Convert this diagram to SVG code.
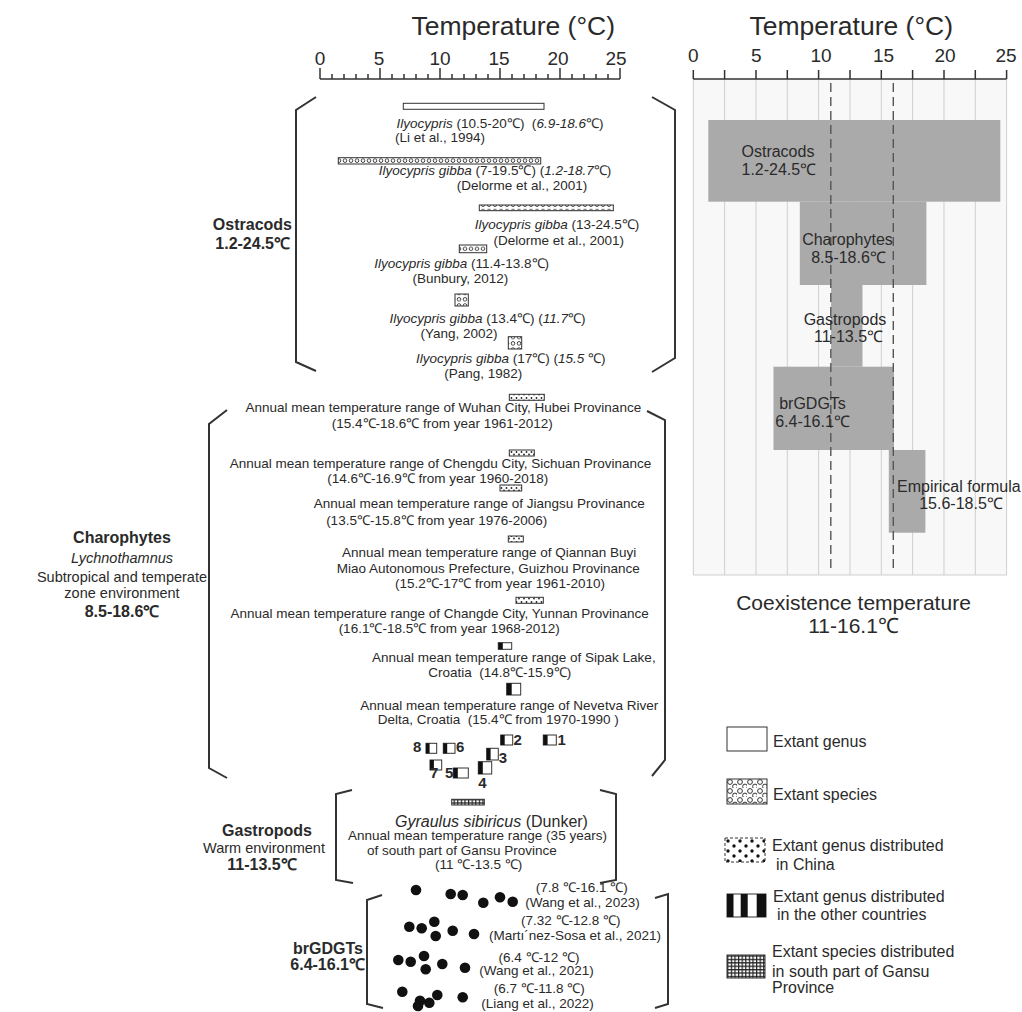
<svg xmlns="http://www.w3.org/2000/svg" width="1022" height="1012" viewBox="0 0 1022 1012">
<style>
text{font-family:"Liberation Sans",Arial,sans-serif;fill:#2a2a2a}
.s{font-size:13.5px}
.m{text-anchor:middle}
.e{text-anchor:end}
.i{font-style:italic}
.lab{font-size:16px;font-weight:bold}
.reg{font-size:14.5px}
.ax{font-size:19px;text-anchor:middle}
.ttl{font-size:26.5px;text-anchor:end}
.bt{font-size:16px}
.leg{font-size:16px}
.num{font-size:15px;font-weight:bold}
.br{fill:none;stroke:#333;stroke-width:2}
.bx{stroke:#333;stroke-width:1}
.tk{stroke:#333;stroke-width:1.5;fill:none}
.grid{stroke:#cfcfcf;stroke-width:1}
.bar{fill:#aaaaaa}
.dash{stroke:#555;stroke-width:1.4;stroke-dasharray:9 5}
.pre{white-space:pre}
</style>
<defs>
<pattern id="pSp" width="6" height="6.3" patternUnits="userSpaceOnUse"><rect width="6" height="6.3" fill="#fff"/><circle cx="3" cy="3.15" r="1.8" fill="none" stroke="#333" stroke-width="0.9"/></pattern>
<pattern id="pSpL" width="10" height="9" patternUnits="userSpaceOnUse" x="727" y="779"><rect width="10" height="9" fill="#fff"/><circle cx="3" cy="3" r="2.4" fill="none" stroke="#333" stroke-width="1"/><circle cx="8" cy="7.5" r="2.4" fill="none" stroke="#333" stroke-width="1"/></pattern>
<pattern id="pDot" width="5" height="6" patternUnits="userSpaceOnUse"><rect width="5" height="6" fill="#fff"/><circle cx="1.5" cy="2" r="0.9" fill="#222"/><circle cx="4" cy="4.5" r="0.9" fill="#222"/></pattern>
<pattern id="pDotL" width="12" height="10" patternUnits="userSpaceOnUse" x="725" y="838"><rect width="12" height="10" fill="#fff"/><circle cx="3" cy="3" r="1.7" fill="#111"/><circle cx="9" cy="8" r="1.7" fill="#111"/></pattern>
<pattern id="pGrid" width="3.6" height="3.4" patternUnits="userSpaceOnUse"><rect width="3.6" height="3.4" fill="#fff"/><path d="M0 0.6H3.6M0.6 0V3.4" stroke="#222" stroke-width="1.2"/></pattern>
</defs>
<rect width="1022" height="1012" fill="#fff"/>

<g id="left-axis">
<text class="ttl" x="615" y="35">Temperature (°C)</text>
<path class="tk" d="M320 79H620M320 68V79M332 74V79M344 74V79M356 74V79M368 74V79M380 68V79M392 74V79M404 74V79M416 74V79M428 74V79M440 68V79M452 74V79M464 74V79M476 74V79M488 74V79M500 68V79M512 74V79M524 74V79M536 74V79M548 74V79M560 68V79M572 74V79M584 74V79M596 74V79M608 74V79M620 68V79"/>
<text class="ax" x="320" y="65">0</text><text class="ax" x="379" y="65">5</text><text class="ax" x="440" y="65">10</text><text class="ax" x="499" y="65">15</text><text class="ax" x="558" y="65">20</text><text class="ax" x="616" y="65">25</text>
</g>

<g id="brackets">
<path class="br" d="M316 97L296 110V362L316 371"/>
<path class="br" d="M652 97L675 110V358L652 372"/>
<path class="br" d="M227 410L209 424V768L227 778"/>
<path class="br" d="M647 411L665 420V760L652 776"/>
<path class="br" d="M352 790L336 794V880L353 883"/>
<path class="br" d="M600 790L616 794V880L600 883"/>
<path class="br" d="M382 895L367 900V1004L383 1008"/>
<path class="br" d="M655 898L668 894V1004L655 1008"/>
</g>

<g id="ostracods">
<text class="lab e" x="292" y="230">Ostracods</text>
<text class="lab e" x="290" y="249">1.2-24.5℃</text>
<rect class="bx" x="403.3" y="103.3" width="140.7" height="6" fill="#fff"/>
<text class="s m pre" x="500" y="128"><tspan class="i">Ilyocypris</tspan> (10.5-20℃)  (<tspan class="i">6.9-18.6</tspan>℃)</text>
<text class="s m" x="440" y="142">(Li et al., 1994)</text>
<rect class="bx" x="338.3" y="157.7" width="202.4" height="6.3" fill="url(#pSp)"/>
<text class="s m" x="495" y="175"><tspan class="i">Ilyocypris gibba</tspan> (7-19.5℃) (<tspan class="i">1.2-18.7</tspan>℃)</text>
<text class="s m" x="522" y="190">(Delorme et al., 2001)</text>
<rect class="bx" x="479.3" y="205" width="134" height="5.7" fill="url(#pSp)"/>
<text class="s m" x="557" y="228.5"><tspan class="i">Ilyocypris gibba</tspan> (13-24.5℃)</text>
<text class="s m" x="558.7" y="245">(Delorme et al., 2001)</text>
<rect class="bx" x="459.3" y="245" width="27.4" height="7.7" fill="url(#pSp)"/>
<text class="s m" x="461.7" y="268"><tspan class="i">Ilyocypris gibba</tspan> (11.4-13.8℃)</text>
<text class="s m" x="460.3" y="283.3">(Bunbury, 2012)</text>
<rect class="bx" x="455" y="294" width="13.3" height="12" fill="url(#pSp)"/>
<text class="s m" x="487.5" y="323.3"><tspan class="i">Ilyocypris gibba</tspan> (13.4℃) (<tspan class="i">11.7</tspan>℃)</text>
<text class="s m" x="459" y="338.3">(Yang, 2002)</text>
<rect class="bx" x="508.3" y="336.7" width="13.4" height="12.3" fill="url(#pSp)"/>
<text class="s m" x="510.7" y="362.7"><tspan class="i">Ilyocypris gibba</tspan> (17℃) (<tspan class="i">15.5</tspan> ℃)</text>
<text class="s m" x="483.3" y="378.3">(Pang, 1982)</text>
</g>

<g id="charophytes">
<text class="lab m" x="122" y="543">Charophytes</text>
<text class="reg m i" x="122" y="563">Lychnothamnus</text>
<text class="reg m" x="122" y="581.5">Subtropical and temperate</text>
<text class="reg m" x="122" y="598">zone environment</text>
<text class="lab m" x="122" y="616.5">8.5-18.6℃</text>
<rect class="bx" x="509.3" y="394.3" width="35" height="6" fill="url(#pDot)"/>
<text class="s m" x="443.3" y="412.3">Annual mean temperature range of Wuhan City, Hubei Provinance</text>
<text class="s m" x="442.3" y="428.3">(15.4℃-18.6℃ from year 1961-2012)</text>
<rect class="bx" x="509.3" y="450" width="25" height="6" fill="url(#pDot)"/>
<text class="s m" x="440.5" y="468.3">Annual mean temperature range of Chengdu City, Sichuan Provinance</text>
<text class="s m" x="437.8" y="483.3">(14.6℃-16.9℃ from year 1960-2018)</text>
<rect class="bx" x="500" y="485" width="21.7" height="6" fill="url(#pDot)"/>
<text class="s m" x="479.2" y="508">Annual mean temperature range of Jiangsu Provinance</text>
<text class="s m" x="436.7" y="525">(13.5℃-15.8℃ from year 1976-2006)</text>
<rect class="bx" x="508.3" y="536" width="15" height="6" fill="url(#pDot)"/>
<text class="s m" x="489.2" y="556.7">Annual mean temperature range of Qiannan Buyi</text>
<text class="s m" x="488.3" y="573.3">Miao Autonomous Prefecture, Guizhou Provinance</text>
<text class="s m" x="500" y="588.3">(15.2℃-17℃ from year 1961-2010)</text>
<rect class="bx" x="516" y="597.3" width="27.3" height="6" fill="url(#pDot)"/>
<text class="s m" x="439.7" y="618.3">Annual mean temperature range of Changde City, Yunnan Provinance</text>
<text class="s m" x="449.2" y="633.3">(16.1℃-18.5℃ from year 1968-2012)</text>
<rect class="bx" x="498.3" y="642.7" width="13.4" height="6.6" fill="#fff"/><rect x="498.3" y="642.7" width="4.5" height="6.6" fill="#111"/>
<text class="s m" x="513.8" y="661.7">Annual mean temperature range of Sipak Lake,</text>
<text class="s m pre" x="499.7" y="676.7">Croatia  (14.8℃-15.9℃)</text>
<rect class="bx" x="506.7" y="683.3" width="14" height="11.7" fill="#fff"/><rect x="506.7" y="683.3" width="5" height="11.7" fill="#111"/>
<text class="s m" x="509.2" y="710">Annual mean temperature range of Nevetva River</text>
<text class="s m pre" x="498.3" y="724">Delta, Croatia  (15.4℃ from 1970-1990 )</text>
<g id="numbered">
<rect class="bx" x="500.7" y="735" width="12" height="10" fill="#fff"/><rect x="500.7" y="735" width="4" height="10" fill="#111"/><text class="num" x="513.5" y="745">2</text>
<rect class="bx" x="543.3" y="735" width="13" height="10" fill="#fff"/><rect x="543.3" y="735" width="4.3" height="10" fill="#111"/><text class="num" x="557.5" y="745">1</text>
<text class="num" x="413" y="752">8</text><rect class="bx" x="426" y="743.3" width="10.7" height="10" fill="#fff"/><rect x="426" y="743.3" width="3.6" height="10" fill="#111"/>
<rect class="bx" x="443.3" y="743.3" width="11.7" height="10" fill="#fff"/><rect x="443.3" y="743.3" width="3.9" height="10" fill="#111"/><text class="num" x="456" y="752">6</text>
<rect class="bx" x="486.7" y="748.3" width="11.6" height="11.7" fill="#fff"/><rect x="486.7" y="748.3" width="3.9" height="11.7" fill="#111"/><text class="num" x="498.8" y="763">3</text>
<rect class="bx" x="430" y="760" width="11.7" height="10" fill="#fff"/><rect x="430" y="760" width="3.9" height="10" fill="#111"/>
<rect class="bx" x="478.3" y="761.7" width="13.4" height="12.3" fill="#fff"/><rect x="478.3" y="761.7" width="4.5" height="12.3" fill="#111"/>
<text class="num" x="430" y="778">7</text>
<text class="num" x="445" y="778">5</text><rect class="bx" x="453.3" y="768" width="15" height="10" fill="#fff"/><rect x="453.3" y="768" width="4.5" height="10" fill="#111"/>
<text class="num" x="478.3" y="788">4</text>
</g>
</g>

<g id="gastropods">
<text class="lab m" x="267" y="836">Gastropods</text>
<text class="reg m" x="264" y="853">Warm environment</text>
<text class="lab m" x="262" y="870">11-13.5℃</text>
<rect class="bx" x="451.7" y="799.3" width="32.6" height="5.7" fill="url(#pGrid)"/>
<text x="395" y="826.7" style="font-size:16px"><tspan class="i">Gyraulus sibiricus</tspan> (Dunker)</text>
<text class="s" x="348" y="840">Annual mean temperature range (35 years)</text>
<text class="s" x="367" y="855">of south part of Gansu Province</text>
<text class="s" x="435" y="869.3">(11 ℃-13.5 ℃)</text>
</g>

<g id="brgdgts">
<text class="lab e" x="363" y="954">brGDGTs</text>
<text class="lab e" x="365" y="970">6.4-16.1℃</text>
<g fill="#111">
<circle cx="416" cy="890" r="5.3"/><circle cx="450.7" cy="894" r="5.3"/><circle cx="462.7" cy="895" r="5.3"/><circle cx="483.3" cy="902.7" r="5.3"/><circle cx="500" cy="897.3" r="5.3"/><circle cx="512.7" cy="901.7" r="5.3"/>
<circle cx="409.3" cy="926.7" r="5.3"/><circle cx="421.7" cy="928.3" r="5.3"/><circle cx="434.3" cy="921.7" r="5.3"/><circle cx="435.7" cy="936" r="5.3"/><circle cx="452.7" cy="930.7" r="5.3"/><circle cx="474" cy="934" r="5.3"/>
<circle cx="398.3" cy="960" r="5.3"/><circle cx="410.7" cy="961.7" r="5.3"/><circle cx="424" cy="956" r="5.3"/><circle cx="425.7" cy="969.3" r="5.3"/><circle cx="442.3" cy="964" r="5.3"/><circle cx="465" cy="967.7" r="5.3"/>
<circle cx="402.3" cy="991.7" r="5.3"/><circle cx="420" cy="1000.7" r="5.3"/><circle cx="429.3" cy="1002.7" r="5.3"/><circle cx="437.3" cy="995" r="5.3"/><circle cx="462.7" cy="997.3" r="5.3"/><circle cx="418" cy="1006" r="5.3"/>
</g>
<text class="s m" x="581.7" y="891.7">(7.8 ℃-16.1 ℃)</text>
<text class="s m" x="582.5" y="906.7">(Wang et al., 2023)</text>
<text class="s m" x="570.8" y="925">(7.32 ℃-12.8 ℃)</text>
<text class="s m" x="575" y="940">(Martı´nez-Sosa et al., 2021)</text>
<text class="s m" x="539" y="961.7">(6.4 ℃-12 ℃)</text>
<text class="s m" x="536.5" y="975">(Wang et al., 2021)</text>
<text class="s m" x="539.2" y="993.3">(6.7 ℃-11.8 ℃)</text>
<text class="s m" x="537.5" y="1008">(Liang et al., 2022)</text>
</g>

<g id="right-chart">
<rect x="693.3" y="79" width="313.3" height="496" fill="#f8f8f8"/>
<path class="grid" d="M693.3 79V575M724.6 79V575M756 79V575M787.3 79V575M818.6 79V575M850 79V575M881.3 79V575M912.6 79V575M944 79V575M975.3 79V575M1006.6 79V575M693.3 575H1006.6"/>
<text class="ttl" x="953" y="35">Temperature (°C)</text>
<path class="tk" d="M693.3 79H1006.6M693.3 70V79M724.6 70V79M756 70V79M787.3 70V79M818.6 70V79M850 70V79M881.3 70V79M912.6 70V79M944 70V79M975.3 70V79M1006.6 70V79"/>
<text class="ax" x="693.3" y="62">0</text><text class="ax" x="756.3" y="62">5</text><text class="ax" x="821" y="62">10</text><text class="ax" x="883.5" y="62">15</text><text class="ax" x="945" y="62">20</text><text class="ax" x="1006" y="62">25</text>
<g id="bars">
<rect class="bar" x="708.3" y="120" width="292" height="81.7"/>
<rect class="bar" x="799.8" y="201.7" width="126.6" height="83.3"/>
<rect class="bar" x="831.1" y="285" width="31.4" height="81.7"/>
<rect class="bar" x="773.5" y="366.7" width="120.5" height="83.3"/>
<rect class="bar" x="888.8" y="450" width="36.6" height="82.7"/>
</g>
<line class="dash" x1="830.8" y1="83" x2="830.8" y2="570"/>
<line class="dash" x1="893.3" y1="83" x2="893.3" y2="570"/>
<text class="bt" x="741.5" y="157">Ostracods</text>
<text class="bt" x="741.5" y="175">1.2-24.5℃</text>
<text class="bt m" x="847.5" y="245">Charophytes</text>
<text class="bt m" x="848.5" y="263">8.5-18.6℃</text>
<text class="bt m" x="845" y="325">Gastropods</text>
<text class="bt m" x="848.5" y="342">11-13.5℃</text>
<text class="bt m" x="812.5" y="409">brGDGTs</text>
<text class="bt m" x="812.5" y="427">6.4-16.1℃</text>
<text class="bt" x="897" y="492">Empirical formula</text>
<text class="bt m" x="961" y="509">15.6-18.5℃</text>
<text class="m" x="853.5" y="610" style="font-size:21px">Coexistence temperature</text>
<text class="m" x="853.5" y="633" style="font-size:21px">11-16.1℃</text>
</g>

<g id="legend">
<g id="leg-genus"><rect class="bx" x="727" y="727" width="40" height="24" fill="#fff" stroke="#888"/><text class="leg" x="773" y="747">Extant genus</text></g>
<g id="leg-species"><rect class="bx" x="727" y="779" width="40" height="25" fill="url(#pSpL)"/><text class="leg" x="773" y="800">Extant species</text></g>
<g id="leg-china"><rect class="bx" x="725" y="838" width="40" height="24" fill="url(#pDotL)" stroke-dasharray="3 2"/><text class="leg" x="772" y="851">Extant genus distributed</text><text class="leg" x="776" y="870">in China</text></g>
<g id="leg-other"><rect class="bx" x="727" y="894" width="39" height="23" fill="#fff"/><rect x="727" y="894" width="6.5" height="23" fill="#111"/><rect x="740.7" y="894" width="7" height="23" fill="#111"/><rect x="756.7" y="894" width="9.3" height="23" fill="#111"/><text class="leg" x="773" y="902">Extant genus distributed</text><text class="leg" x="777" y="920">in the other countries</text></g>
<g id="leg-gansu"><rect class="bx" x="727" y="955" width="38" height="23" fill="url(#pGrid)"/><text class="leg" x="772" y="957">Extant species distributed</text><text class="leg" x="772" y="976.7">in south part of Gansu</text><text class="leg" x="772" y="993">Province</text></g>
</g>
</svg>
